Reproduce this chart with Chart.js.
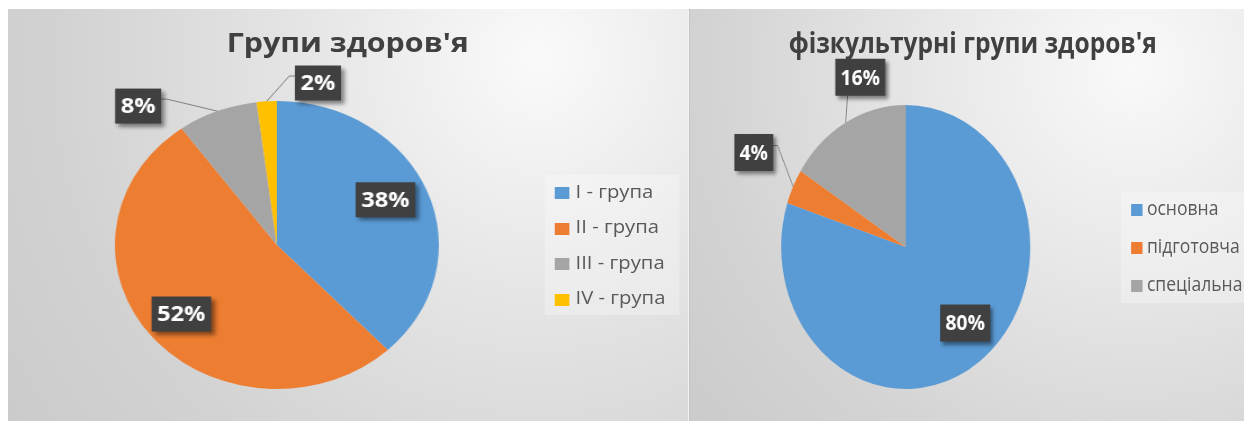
<!DOCTYPE html>
<html lang="uk">
<head>
  <meta charset="UTF-8" />
  <title>Групи здоров'я</title>
  <script src="https://cdn.jsdelivr.net/npm/chart.js"></script>
  <style>
    body { margin: 0; width: 1244px; height: 421px; background: #fff; overflow: hidden; position: relative; font-family: "Open Sans", sans-serif; }
    .doc-line { position: absolute; left: 0; top: 0; width: 1244px; height: 9px; overflow: hidden; }
    .doc-line span { position: absolute; left: 4px; top: -28px; font: 26px "Liberation Serif", serif; white-space: nowrap; color: #000; }
    .panel { position: absolute; top: 9px; height: 412px; overflow: hidden; }
    #p1 { left: 8px; width: 680px; background: radial-gradient(circle farthest-corner at 78% 12%, #fafafa 0%, #e6e6e6 35%, #d2d2d2 75%, #cbcbcb 100%); border-right: 1px solid #f2f2f2; }
    #p2 { left: 689px; width: 555px; background: radial-gradient(circle farthest-corner at 80% 14%, #f9f9f9 0%, #e8e8e8 35%, #d3d3d3 75%, #cbcbcb 100%); border-left: 1px solid #c4c4c4; }
    .inner { position: absolute; left: 0; top: 0; height: 412px; transform-origin: 0 0; }
    .title { position: absolute; text-align: center; font-weight: 700; color: #404040; white-space: nowrap; line-height: 1; }
    .legend { position: absolute; background: rgba(255, 255, 255, 0.28); }
    .legend .item { position: absolute; left: 0; white-space: nowrap; color: #595959; line-height: 1; }
    .legend .sw { position: absolute; }
    canvas { position: absolute; left: 0; top: 0; }
  </style>
</head>
<body>
  <div class="doc-line"><span>фізкультурні групи та групи здоров'я учнів у школі за результатами</span></div>

  <!-- Chart 1 -->
  <div class="panel" id="p1">
    <div class="inner" id="in1" style="width:604px; transform: scaleX(1.125);">
      <div class="title" style="left:0; right:0; top:19px; font-size:27px;">Групи здоров'я</div>
      <canvas id="chart1" width="604" height="412"></canvas>
      <div class="legend" id="leg1" style="left:477px; top:166px; width:120px; height:140px;"></div>
    </div>
  </div>

  <!-- Chart 2 -->
  <div class="panel" id="p2">
    <div class="inner" id="in2" style="width:633px; transform: scaleX(0.877);">
      <div class="title" style="left:12px; right:0; top:19px; font-size:28px;">фізкультурні групи здоров'я</div>
      <canvas id="chart2" width="633" height="412"></canvas>
      <div class="legend" id="leg2" style="left:491px; top:183px; width:150px; height:111px;"></div>
    </div>
  </div>

  <script>
    // data (percent)
    const healthGroups = ['I - група', 'II - група', 'III - група', 'IV - група'];
    const healthValues = [38, 52, 8, 2];
    const healthColors = ['#5B9BD5', '#ED7D31', '#A5A5A5', '#FFC000'];

    const peGroups = ['основна', 'підготовча', 'спеціальна'];
    const peValues = [80, 4, 16];
    const peColors = ['#5B9BD5', '#ED7D31', '#A5A5A5'];

    // label placement: radius factor + angle shift (deg) from slice middle
    const healthLabelPlace = [{ r: 0.74, da: -3.5 }, { r: 0.76, da: 0.5 }, { r: 1.29, da: -20 }, { r: 1.153, da: 16.3 }];
    const peLabelPlace = [{ r: 0.717, da: -5.7 }, { r: 1.39, da: 3.4 }, { r: 1.25, da: 11.8 }];

    // dark percent boxes with leader lines for outside labels
    const pieLabels = {
      id: 'pieLabels',
      afterDraw(chart, args, opts) {
        const ctx = chart.ctx;
        const meta = chart.getDatasetMeta(0);
        const values = chart.data.datasets[0].data;
        const total = values.reduce((a, b) => a + b, 0);
        meta.data.forEach((arc, i) => {
          const p = arc.getProps(['x', 'y', 'startAngle', 'endAngle', 'outerRadius'], true);
          const mid = (p.startAngle + p.endAngle) / 2;
          const place = opts.place[i];
          const a = mid + place.da * Math.PI / 180;
          const cx = p.x + Math.cos(a) * p.outerRadius * place.r;
          const cy = p.y + Math.sin(a) * p.outerRadius * place.r;
          const text = Math.round(values[i] / total * 100) + '%';
          ctx.save();
          ctx.font = 'bold ' + opts.size + 'px "Open Sans"';
          const w = ctx.measureText(text).width + 2 * opts.padX;
          const h = opts.boxH;
          const bx = cx - w / 2, by = cy - h / 2;

          if (place.r > 1) {
            const px = p.x + Math.cos(mid) * p.outerRadius;
            const py = p.y + Math.sin(mid) * p.outerRadius;
            ctx.strokeStyle = '#7f7f7f';
            ctx.lineWidth = 1;
            ctx.beginPath();
            if (px > bx + w) {
              ctx.moveTo(bx + w, cy - 7);
              ctx.lineTo(bx + w + 5, cy - 7);
            } else if (px < bx) {
              ctx.moveTo(bx, cy - 7);
              ctx.lineTo(bx - 5, cy - 7);
            } else {
              ctx.moveTo(Math.min(Math.max(px + 2, bx + 4), bx + w - 4), by + h);
            }
            ctx.lineTo(px, py);
            ctx.stroke();
          }

          ctx.shadowColor = 'rgba(0,0,0,0.45)';
          ctx.shadowBlur = 4;
          ctx.shadowOffsetX = 3;
          ctx.shadowOffsetY = 3;
          ctx.fillStyle = '#404040';
          ctx.fillRect(bx, by, w, h);
          ctx.shadowColor = 'transparent';
          ctx.fillStyle = '#ffffff';
          ctx.textAlign = 'center';
          ctx.textBaseline = 'middle';
          ctx.fillText(text, cx, cy + 1);
          ctx.restore();
        });
      }
    };

    function makePie(id, labels, values, colors, padding, place, labelFont) {
      return new Chart(document.getElementById(id), {
        type: 'pie',
        data: {
          labels: labels,
          datasets: [{ data: values, backgroundColor: colors, borderWidth: 0, hoverOffset: 0 }]
        },
        options: {
          responsive: false,
          animation: false,
          layout: { padding: padding },
          plugins: {
            legend: { display: false },
            tooltip: { enabled: false },
            pieLabels: Object.assign({ place: place }, labelFont)
          }
        },
        plugins: [pieLabels]
      });
    }

    // HTML legend built from the same arrays
    function makeLegend(id, labels, colors, rowStart, rowGap, swX, textX, fontSize) {
      const box = document.getElementById(id);
      labels.forEach((lab, i) => {
        const yc = rowStart + i * rowGap;
        const sw = document.createElement('div');
        sw.className = 'sw';
        sw.style.cssText = `left:${swX}px; top:${yc - 6}px; width:12.5px; height:12px; background:${colors[i]};`;
        box.appendChild(sw);
        const t = document.createElement('div');
        t.className = 'item';
        t.style.cssText = `left:${textX}px; top:${yc - fontSize * 0.62}px; font-size:${fontSize}px;`;
        t.textContent = lab;
        box.appendChild(t);
      });
    }

    makePie('chart1', healthGroups, healthValues, healthColors,
      { left: 95, right: 221, top: 92, bottom: 32 }, healthLabelPlace, { size: 21, padX: 5, boxH: 35 });
    makePie('chart2', peGroups, peValues, peColors,
      { left: 104, right: 245, top: 96, bottom: 32 }, peLabelPlace, { size: 22, padX: 6, boxH: 37 });

    makeLegend('leg1', healthGroups, healthColors, 18, 35.5, 9, 27.5, 18);
    makeLegend('leg2', peGroups, peColors, 18, 38, 12, 30, 20);
  </script>
</body>
</html>
